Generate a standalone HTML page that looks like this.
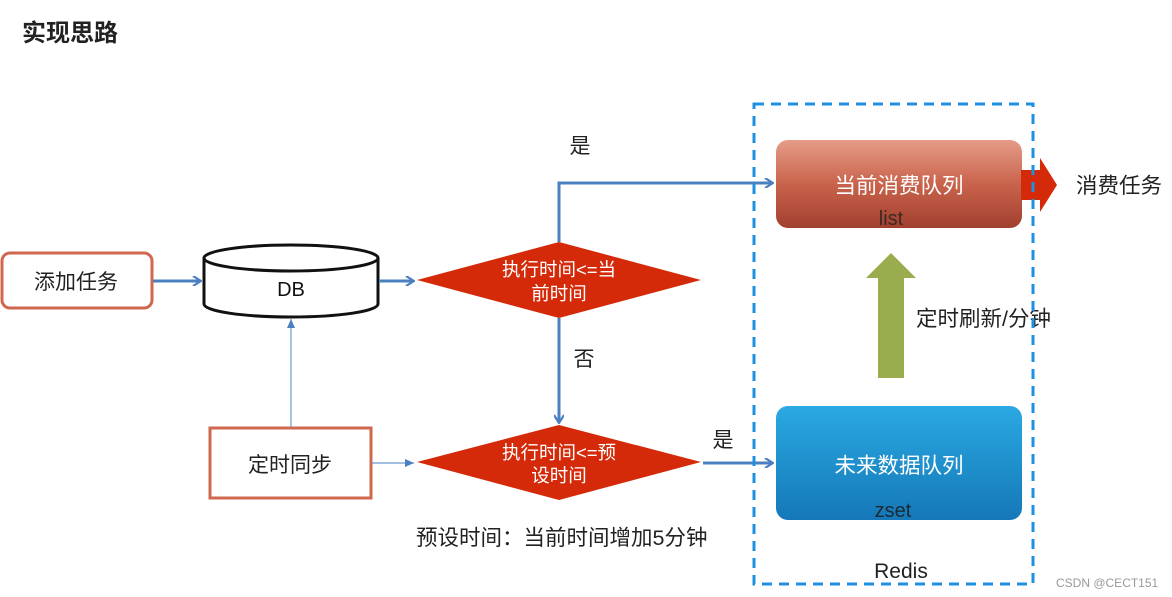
<!DOCTYPE html>
<html><head><meta charset="utf-8"><style>
body{margin:0;background:#fff}
svg{display:block;font-family:"Liberation Sans","Noto Sans CJK SC",sans-serif}
</style></head><body>
<svg width="1172" height="597" viewBox="0 0 1172 597" xmlns="http://www.w3.org/2000/svg">
<defs>
<linearGradient id="rg" x1="0" y1="0" x2="0" y2="1"><stop offset="0" stop-color="#e59c88"/><stop offset="0.5" stop-color="#c9634c"/><stop offset="1" stop-color="#a13f2f"/></linearGradient>
<linearGradient id="bg" x1="0" y1="0" x2="0" y2="1"><stop offset="0" stop-color="#2aa9e2"/><stop offset="1" stop-color="#1578b8"/></linearGradient>
<marker id="ah" markerWidth="10" markerHeight="10" refX="9" refY="5" orient="auto" markerUnits="userSpaceOnUse"><path d="M1,0 L9,5 L1,10" fill="none" stroke="#4a7fc0" stroke-width="2.2"/></marker>
<marker id="ah2" markerWidth="10" markerHeight="8" refX="9" refY="4" orient="auto" markerUnits="userSpaceOnUse"><path d="M0,0 L9,4 L0,8 Z" fill="#4a7fc0"/></marker>
</defs>
<text x="22" y="41" font-size="24" font-weight="bold" fill="#222">实现思路</text>

<rect x="2" y="253" width="150" height="55" rx="8" fill="#fff" stroke="#d0674f" stroke-width="3"/>
<text x="76" y="289" font-size="21" text-anchor="middle" fill="#222">添加任务</text>

<path d="M204,258 L204,304 A87,13 0 0 0 378,304 L378,258" fill="#fff" stroke="#111" stroke-width="3"/>
<ellipse cx="291" cy="258" rx="87" ry="13" fill="#fff" stroke="#111" stroke-width="3"/>
<text x="291" y="296" font-size="20" text-anchor="middle" fill="#111">DB</text>

<line x1="153" y1="281" x2="201" y2="281" stroke="#4a7fc0" stroke-width="3" marker-end="url(#ah)"/>
<line x1="379" y1="281" x2="414" y2="281" stroke="#4a7fc0" stroke-width="3" marker-end="url(#ah)"/>

<polygon points="417,280 559,242 701,280 559,318" fill="#d42a0a"/>
<text x="559" y="276" font-size="18.5" text-anchor="middle" fill="#fff">执行时间&lt;=当</text>
<text x="559" y="300" font-size="18.5" text-anchor="middle" fill="#fff">前时间</text>

<polyline points="559,242 559,183 773,183" fill="none" stroke="#4a7fc0" stroke-width="3" marker-end="url(#ah)"/>
<text x="580" y="153" font-size="21" text-anchor="middle" fill="#222">是</text>
<line x1="559" y1="318" x2="559" y2="423" stroke="#4a7fc0" stroke-width="3" marker-end="url(#ah)"/>
<text x="584" y="366" font-size="21" text-anchor="middle" fill="#222">否</text>

<polygon points="417,462 559,425 701,462 559,500" fill="#d42a0a"/>
<text x="559" y="459" font-size="18.5" text-anchor="middle" fill="#fff">执行时间&lt;=预</text>
<text x="559" y="482" font-size="18.5" text-anchor="middle" fill="#fff">设时间</text>

<rect x="210" y="428" width="161" height="70" fill="#fff" stroke="#d0674f" stroke-width="3"/>
<text x="290" y="472" font-size="21" text-anchor="middle" fill="#222">定时同步</text>
<line x1="291" y1="427" x2="291" y2="319" stroke="#6a9bd0" stroke-width="1.2" marker-end="url(#ah2)"/>
<line x1="372" y1="463" x2="414" y2="463" stroke="#6a9bd0" stroke-width="1.2" marker-end="url(#ah2)"/>

<text x="723" y="447" font-size="21" text-anchor="middle" fill="#222">是</text>
<line x1="703" y1="463" x2="773" y2="463" stroke="#4a7fc0" stroke-width="3" marker-end="url(#ah)"/>

<text x="416" y="545" font-size="21.5" fill="#222">预设时间：当前时间增加5分钟</text>

<rect x="776" y="140" width="246" height="88" rx="12" fill="url(#rg)"/>
<text x="899" y="193" font-size="21.5" text-anchor="middle" fill="#fff">当前消费队列</text>
<text x="891" y="225" font-size="20" text-anchor="middle" fill="#3a2a22">list</text>
<polygon points="1021,170 1040,170 1040,158 1057,185 1040,212 1040,200 1021,200" fill="#d42a0a"/>
<text x="1076" y="193" font-size="21.5" fill="#222">消费任务</text>

<polygon points="866,278 891,253 916,278 904,278 904,378 878,378 878,278" fill="#9aad4e"/>
<text x="916" y="326" font-size="21.5" fill="#222">定时刷新/分钟</text>

<rect x="776" y="406" width="246" height="114" rx="12" fill="url(#bg)"/>
<text x="899" y="473" font-size="21.5" text-anchor="middle" fill="#fff">未来数据队列</text>
<text x="893" y="517" font-size="20" text-anchor="middle" fill="#1a2a33">zset</text>

<rect x="754" y="104" width="279" height="480" fill="none" stroke="#1e90e0" stroke-width="3" stroke-dasharray="10,7"/>
<text x="901" y="578" font-size="21" text-anchor="middle" fill="#222">Redis</text>
<text x="1056" y="587" font-size="12" fill="#999">CSDN @CECT151</text>
</svg>
</body></html>
